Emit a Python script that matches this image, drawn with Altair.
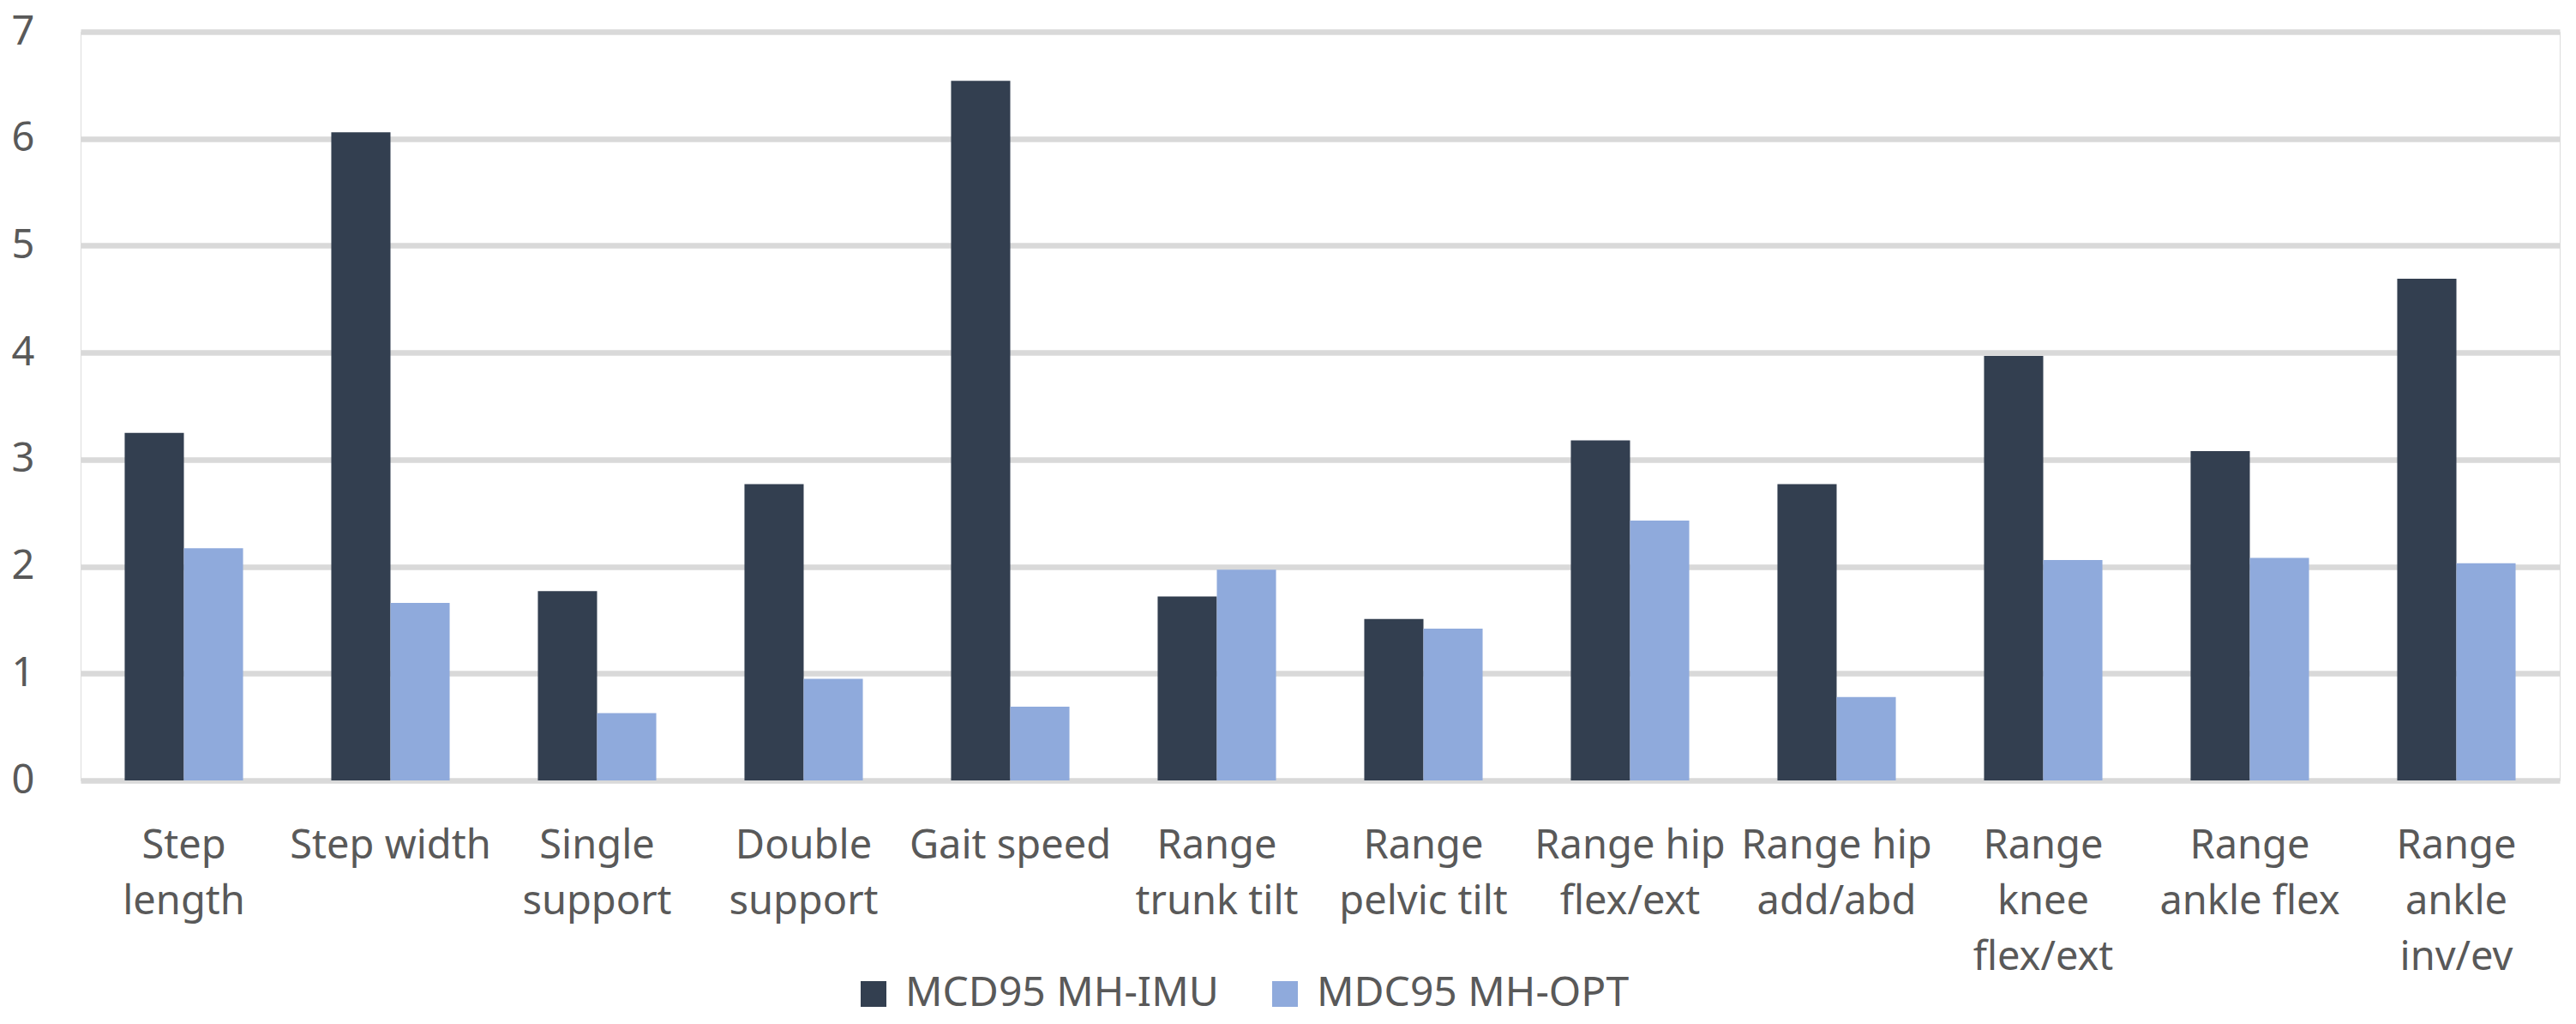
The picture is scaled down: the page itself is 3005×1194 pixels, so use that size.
import altair as alt
import pandas as pd

categories = ["Step length", "Step width", "Single support", "Double support",
              "Gait speed", "Range trunk tilt", "Range pelvic tilt",
              "Range hip flex/ext", "Range hip add/abd", "Range knee flex/ext",
              "Range ankle flex", "Range ankle inv/ev"]
label_lines = ["Step|length", "Step width", "Single|support", "Double|support",
               "Gait speed", "Range|trunk tilt", "Range|pelvic tilt",
               "Range hip|flex/ext", "Range hip|add/abd", "Range|knee|flex/ext",
               "Range|ankle flex", "Range|ankle|inv/ev"]
series = ["MCD95 MH-IMU", "MDC95 MH-OPT"]
imu = [3.25, 6.06, 1.77, 2.77, 6.54, 1.72, 1.51, 3.18, 2.77, 3.97, 3.08, 4.69]
opt = [2.17, 1.66, 0.63, 0.95, 0.69, 1.97, 1.42, 2.43, 0.78, 2.06, 2.08, 2.03]
colors = ["#333F50", "#8FAADC"]

rows = []
for c, lab, a, b in zip(categories, label_lines, imu, opt):
    rows.append({"cat": lab, "series": series[0], "value": a})
    rows.append({"cat": lab, "series": series[1], "value": b})
df = pd.DataFrame(rows)

FONT = "Noto Sans"
TXT = "#595959"

chart = alt.Chart(df).mark_bar().encode(
    x=alt.X("cat:N", sort=label_lines, title=None,
            scale=alt.Scale(paddingInner=0.427, paddingOuter=0.2135),
            axis=alt.Axis(labelAngle=0, domain=False, ticks=False, grid=False,
                          labelExpr="split(datum.label, '|')",
                          labelFont=FONT, labelFontSize=47, labelColor=TXT,
                          labelLineHeight=65, labelPadding=53,
                          labelBaseline="top", labelLimit=0)),
    xOffset=alt.XOffset("series:N", sort=series),
    y=alt.Y("value:Q", title=None,
            scale=alt.Scale(domain=[0, 7], nice=False),
            axis=alt.Axis(values=[0, 1, 2, 3, 4, 5, 6, 7], domain=False, ticks=False,
                          gridColor="#D9D9D9", gridWidth=6.5,
                          labelFont=FONT, labelFontSize=47, labelColor=TXT,
                          labelPadding=54)),
    color=alt.Color("series:N", sort=series,
                    scale=alt.Scale(domain=series, range=colors),
                    legend=alt.Legend(title=None, orient="none", direction="horizontal",
                                      legendX=901, legendY=1098,
                                      symbolType="square", symbolSize=900,
                                      symbolStrokeWidth=0, symbolOpacity=1,
                                      labelFont=FONT, labelFontSize=48, labelColor=TXT,
                                      labelOffset=13, columnPadding=53,
                                      labelLimit=0)),
).properties(
    width=2892, height=873,
    autosize=alt.AutoSizeParams(type="none"),
    padding={"left": 86, "top": 29, "right": 11, "bottom": 284},
).configure_view(stroke=None).configure(background="white")

chart.save("out.html", embed_options={"renderer": "svg", "actions": False})
